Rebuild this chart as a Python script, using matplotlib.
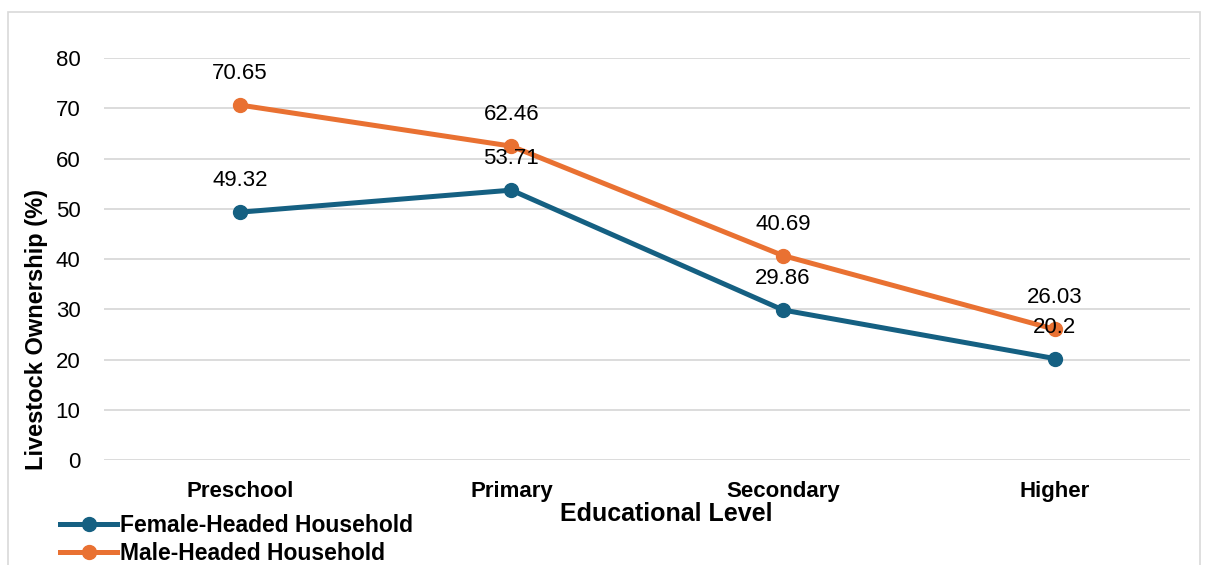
import matplotlib.pyplot as plt
from matplotlib.patches import Rectangle

levels = ["Preschool", "Primary", "Secondary", "Higher"]
female = [49.32, 53.71, 29.86, 20.2]
male = [70.65, 62.46, 40.69, 26.03]
yticks = [0, 10, 20, 30, 40, 50, 60, 70, 80]

BLUE = "#156082"
ORANGE = "#E97132"

plt.rcParams['font.family'] = ['Liberation Sans', 'DejaVu Sans']

fig = plt.figure(figsize=(12.07, 5.65), dpi=100)
ax = fig.add_axes([0.0862, 0.1858, 0.9, 0.7115])

# outer chart frame
fig.patches.append(Rectangle((8 / 1207, -0.05), 1192 / 1207, 1.05 - 12 / 565,
                             transform=fig.transFigure, fill=False,
                             edgecolor="#d9d9d9", linewidth=1.2))

x = list(range(len(levels)))
ax.plot(x, female, color=BLUE, lw=3.6, marker='o', ms=10, label="Female-Headed Household", zorder=3)
ax.plot(x, male, color=ORANGE, lw=3.6, marker='o', ms=10, label="Male-Headed Household", zorder=3)

for series in (female, male):
    for xi, v in zip(x, series):
        ax.annotate(f"{v:g}", (xi, v), xytext=(0, 22.5), textcoords='offset points',
                    ha='center', va='center', fontsize=16, color='black')

ax.set_xlim(-0.5, 3.5)
ax.set_ylim(0, 80)
ax.set_yticks(yticks)
ax.set_xticks(x)
ax.set_xticklabels(levels, fontsize=16, fontweight='bold')
ax.tick_params(axis='y', labelsize=16, length=0, pad=17)
ax.tick_params(axis='x', length=0, pad=15)
ax.grid(axis='y', color='#d9d9d9', lw=1.3)
ax.set_axisbelow(True)
for s in ax.spines.values():
    s.set_visible(False)

fig.text(37 / 1207, 1 - 330 / 565, "Livestock Ownership (%)", rotation=90,
         ha='center', va='center', fontsize=17, fontweight='bold')
fig.text(666 / 1207, 1 - 514 / 565, "Educational Level", ha='center', va='center',
         fontsize=18, fontweight='bold')

leg = fig.legend(loc='upper left', bbox_to_anchor=(60 / 1207, 1 - 514 / 565),
                 frameon=False, handlelength=2.5, handletextpad=0.1,
                 labelspacing=0.22, borderaxespad=0, borderpad=0,
                 prop={'size': 16.5, 'weight': 'bold'})

fig.savefig("out.png", dpi=100)
